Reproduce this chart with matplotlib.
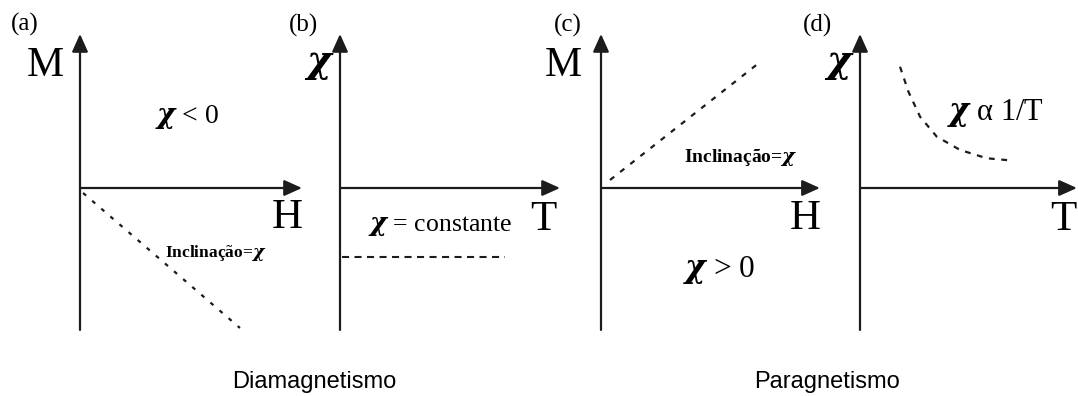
import matplotlib
matplotlib.use("Agg")
import matplotlib.pyplot as plt
from matplotlib.patches import ArrowStyle

# ---- schematic curves (arbitrary units, origin at the axes crossing) ----
# (a) diamagnet: M vs H, negative slope
h_dia = [0.14, 7.27]
m_dia = [-0.33, -9.27]
# (b) diamagnet: chi vs T, constant
t_dia = [0.10, 7.50]
chi_dia = [-4.57, -4.57]
# (c) paramagnet: M vs H, positive slope
h_para = [0.41, 7.23]
m_para = [0.53, 8.34]
# (d) paramagnet: chi vs T, Curie-like decay
t_para = [1.82, 2.20, 2.73, 3.49, 4.55, 5.76, 6.97]
chi_para = [8.03, 6.38, 4.72, 3.40, 2.52, 1.97, 1.81]

panel_tags = ["(a)", "(b)", "(c)", "(d)"]
y_labels = ["M", r"$\chi$", "M", r"$\chi$"]
x_labels = ["H", "T", "H", "T"]
group_names = ["Diamagnetismo", "Paragnetismo"]

SERIF = "Liberation Serif"
INK = "#1c1c1c"

# heavy slanted chi for math-mode symbols, serif for everything else
plt.rcParams["mathtext.fontset"] = "custom"
plt.rcParams["mathtext.it"] = "DejaVu Serif:italic:bold"
plt.rcParams["mathtext.rm"] = SERIF

W, H = 1078, 396
fig = plt.figure(figsize=(W / 100, H / 100), dpi=100)
fig.patch.set_facecolor("white")

# panel origin (pixels from left) and horizontal arrow length (data units)
origins = [80, 340, 601, 860]
x_tips = [10.09, 10.0, 9.95, 9.86]
Y_TIP, Y_BOT = 10.2, -9.4

axes = []
for ox in origins:
    ax = fig.add_axes([ox / W, (H - 339) / H, 220 / W, 302 / H])
    ax.set_xlim(0, 10)
    ax.set_ylim(-10, 10)
    ax.axis("off")
    axes.append(ax)

head = ArrowStyle("-|>", head_length=0.6, head_width=0.27)
for ax, xt in zip(axes, x_tips):
    kw = dict(arrowprops=dict(arrowstyle=head, mutation_scale=18, lw=1.6,
                              color=INK, fc=INK, shrinkA=0, shrinkB=0),
              annotation_clip=False)
    ax.annotate("", xy=(0, Y_TIP), xytext=(0, Y_BOT), **kw)
    ax.annotate("", xy=(xt, 0), xytext=(0, 0), **kw)

# curves
axes[0].plot(h_dia, m_dia, color=INK, lw=1.6, ls=(0, (1.8, 3.6)),
             solid_capstyle="butt")
axes[1].plot(t_dia, chi_dia, color=INK, lw=1.5, ls=(0, (3.4, 2.6)))
axes[2].plot(h_para, m_para, color=INK, lw=1.6, ls=(0, (2.4, 3.4)))
axes[3].plot(t_para, chi_para, color=INK, lw=1.6, ls=(0, (2.6, 3.0)))

# panel tags, axis names
tag_pos = [(-2.5, 10.4), (-1.64, 10.33), (-1.5, 10.33), (-1.91, 10.33)]
ylab_pos = [(-1.59, 7.42), (-0.95, 7.7), (-1.73, 7.42), (-0.95, 7.7)]
xlab_pos = [(9.41, -2.65), (9.23, -2.78), (9.27, -2.72), (9.23, -2.78)]
for i, ax in enumerate(axes):
    ax.text(*tag_pos[i], panel_tags[i], family=SERIF, fontsize=18,
            ha="center", va="baseline", clip_on=False)
    is_chi = "chi" in y_labels[i]
    ax.text(*ylab_pos[i], y_labels[i], family=SERIF,
            fontsize=27 if is_chi else 30,
            ha="center", va="baseline", clip_on=False)
    ax.text(*xlab_pos[i], x_labels[i], family=SERIF, fontsize=31,
            ha="center", va="baseline", clip_on=False)

# annotations inside panels
axes[0].text(3.41, 4.30, r"$\chi$ < 0", family=SERIF, fontsize=20,
             ha="left", va="baseline")
axes[0].text(3.86, -4.57, r"Inclinação=$\chi$", family=SERIF, fontsize=12.5,
             fontweight="bold", ha="left", va="baseline")
axes[1].text(1.27, -2.85, r"$\chi$ = constante", family=SERIF, fontsize=18.5,
             ha="left", va="baseline")
axes[2].text(3.77, 1.72, r"Inclinação=$\chi$", family=SERIF, fontsize=14,
             fontweight="bold", ha="left", va="baseline")
axes[2].text(3.73, -5.89, r"$\chi$ > 0", family=SERIF, fontsize=22.5,
             ha="left", va="baseline")
axes[3].text(3.95, 4.5, r"$\chi$ α 1/T", family=SERIF, fontsize=22,
             ha="left", va="baseline")

# group captions
for name, cx in zip(group_names, [314, 827]):
    fig.text(cx / W, 1 - 388 / H, name, family="Liberation Sans",
             fontsize=17, ha="center", va="baseline")

fig.savefig("out.png", dpi=100, facecolor="white")
